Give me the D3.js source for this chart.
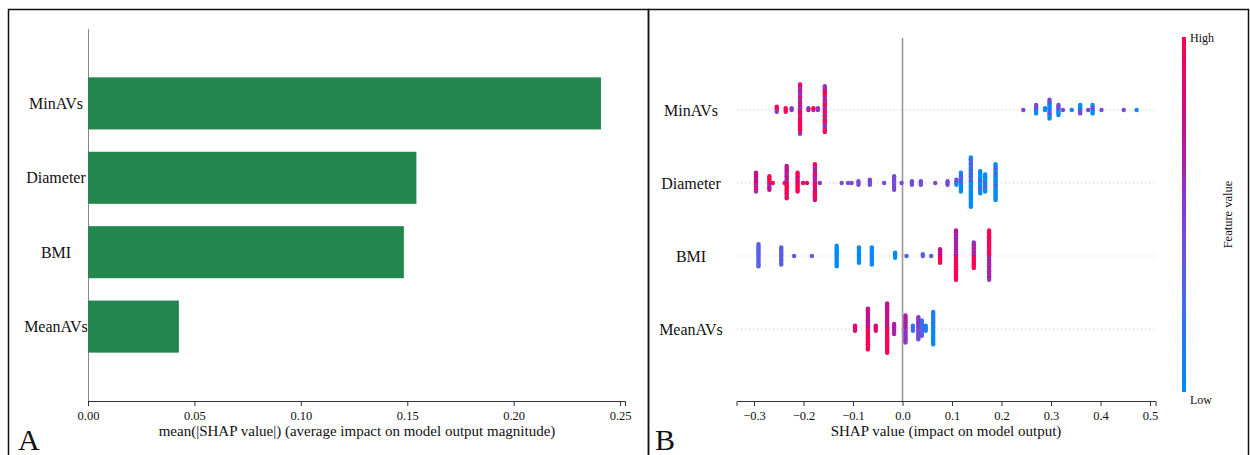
<!DOCTYPE html>
<html>
  <head>
    <meta charset="utf-8">
    <title>SHAP summary</title>
    <script src="https://d3js.org/d3.v7.min.js"></script>
    <style>
      body { margin: 0; background: #fff; }
      svg text { font-family: "Liberation Serif", "DejaVu Serif", serif; fill: #111; }
    </style>
  </head>
  <body>
    <svg width="1250" height="455" font-family="Liberation Serif"></svg>

    <script type="text/javascript">
      // features, top to bottom
      var features = ["MinAVs", "Diameter", "BMI", "MeanAVs"];
      // panel A: mean |SHAP|
      var meanAbsShap = [0.241, 0.1543, 0.1484, 0.0427];
      var barTicks = [0, 0.05, 0.1, 0.15, 0.2, 0.25];
      var shapTicks = [-0.3, -0.2, -0.1, 0, 0.1, 0.2, 0.3, 0.4, 0.5];

      // panel B: columns of points [shap value, feature value codes]
      // one char per point, 0 = low (blue) .. 9 = high (red)
      var minAVsPts = [
        [-0.254, "5959"], [-0.236, "999"], [-0.224, "55"],
        [-0.207, "959599955995959995959599959559"],
        [-0.19, "95"], [-0.18, "59"], [-0.171, "55"],
        [-0.157, "9595995995599595995959599595"],
        [0.244, "4"], [0.27, "040404"], [0.288, "00"],
        [0.297, "040040400404"], [0.315, "0404040"], [0.324, "4"],
        [0.342, "0"], [0.359, "404040"], [0.375, "4"], [0.384, "040400"],
        [0.402, "4"], [0.447, "4"], [0.473, "0"]
      ];
      var diameterPts = [
        [-0.296, "979757979757"], [-0.269, "797959797"], [-0.262, "9"],
        [-0.238, "9"], [-0.234, "97959797979597975797"],
        [-0.212, "999799979999"], [-0.201, "9"], [-0.193, "7"],
        [-0.177, "9795979579799795979579"], [-0.167, "5"],
        [-0.123, "4"], [-0.11, "4"], [-0.103, "4"], [-0.089, "444"],
        [-0.066, "4444"], [-0.037, "4"], [-0.017, "444444444"],
        [-0.002, "4"], [0.019, "444"], [0.037, "444"], [0.066, "4"],
        [0.091, "444"], [0.109, "0404"], [0.118, "040004000400"],
        [0.138, "000400040004000400040004000400"],
        [0.157, "00040000400000"], [0.167, "00400040000"],
        [0.188, "0000400000040000040000"]
      ];
      var bmiPts = [
        [-0.291, "33333333333333"], [-0.245, "33333333333"],
        [-0.219, "3"], [-0.183, "3"], [-0.133, "0000000000000"],
        [-0.088, "0000000000"], [-0.062, "00100100100"], [-0.015, "0000"],
        [0.008, "3"], [0.041, "33"], [0.058, "3"], [0.076, "979797979"],
        [0.108, "979597959795979597959795979597"],
        [0.144, "9795979597959795"],
        [0.175, "597959795979597959795979597959"]
      ];
      var meanAVsPts = [
        [-0.096, "8888"], [-0.07, "9797979797979797979797979"],
        [-0.054, "8888"], [-0.031, "979797979797979797979797979797"],
        [-0.017, "6666666"], [0.006, "56565656565656565"],
        [0.021, "2222"], [0.032, "45454545454545"], [0.039, "3232323232"],
        [0.047, "1111"], [0.062, "01010101010101010101"]
      ];
      var swarm = [minAVsPts, diameterPts, bmiPts, meanAVsPts];

      var svg = d3.select("svg");
      var serif = "Liberation Serif";

      // panel frames
      svg.append("rect").attr("x", 8.5).attr("y", 9.5).attr("width", 640).attr("height", 460)
        .attr("fill", "none").attr("stroke", "#111").attr("stroke-width", 1.5);
      svg.append("rect").attr("x", 648.5).attr("y", 9.5).attr("width", 600).attr("height", 460)
        .attr("fill", "none").attr("stroke", "#111").attr("stroke-width", 1.5);

      // ---------- Panel A ----------
      var xA = d3.scaleLinear().domain([0, 0.2523]).range([88, 625]);
      var yA = d3.scaleLinear().domain([0, 5]).range([29, 401]);
      var stepA = yA(1) - yA(0);

      svg.append("line").attr("x1", 88.5).attr("x2", 88.5).attr("y1", 29).attr("y2", 401)
        .attr("stroke", "#888").attr("stroke-width", 1);

      svg.append("g").selectAll("rect")
        .data(features)
        .enter()
        .append("rect")
        .attr("x", xA(0))
        .attr("y", function (d, i) { return yA(i + 1) - stepA * 0.35; })
        .attr("width", function (d, i) { return xA(meanAbsShap[i]) - xA(0); })
        .attr("height", stepA * 0.7)
        .attr("fill", "#23864f");

      svg.append("g").selectAll("text")
        .data(features)
        .enter()
        .append("text")
        .attr("x", 56)
        .attr("y", function (d, i) { return yA(i + 1); })
        .attr("text-anchor", "middle")
        .attr("dominant-baseline", "central")
        .style("font-size", "16px")
        .text(function (d) { return d; });

      var axA = svg.append("g")
        .attr("transform", "translate(0,401)")
        .call(d3.axisBottom(xA).tickValues(barTicks).tickFormat(d3.format(".2f")).tickSizeOuter(0).tickSize(5));
      axA.select(".domain").attr("stroke", "#333");
      axA.selectAll(".tick line").attr("stroke", "#333");
      axA.selectAll(".tick text").style("font-size", "12.5px").attr("dy", "0.9em");

      svg.append("text").attr("x", 357).attr("y", 436).attr("text-anchor", "middle")
        .style("font-size", "15px")
        .text("mean(|SHAP value|) (average impact on model output magnitude)");
      svg.append("text").attr("x", 18).attr("y", 450).style("font-size", "30px").text("A");

      // ---------- Panel B ----------
      var xB = d3.scaleLinear().domain([-0.3354, 0.5113]).range([736.5, 1155.6]);
      var yB = d3.scaleLinear().domain([0, 5]).range([37, 402]);
      var color = d3.scaleLinear()
        .domain([0, 2, 3.5, 5, 6.5, 9])
        .range(["#008bfb", "#3a6ff0", "#6a55e0", "#8d34c4", "#b8139a", "#ff0052"]);
      var spacing = 1.7;

      // dotted row guides
      svg.append("g").selectAll("line")
        .data(features)
        .enter()
        .append("line")
        .attr("x1", 737).attr("x2", 1155)
        .attr("y1", function (d, i) { return yB(i + 1); })
        .attr("y2", function (d, i) { return yB(i + 1); })
        .attr("stroke", "#ccc").attr("stroke-width", 1).attr("stroke-dasharray", "1,3");

      // zero line
      svg.append("line").attr("x1", xB(0)).attr("x2", xB(0)).attr("y1", 38).attr("y2", 401)
        .attr("stroke", "#999").attr("stroke-width", 1.6);

      // points, stacked alternately above and below the row line
      var points = [];
      swarm.forEach(function (cols, fi) {
        cols.forEach(function (c) {
          c[1].split("").forEach(function (ch, k) {
            var off = (k % 2 === 0 ? 1 : -1) * Math.ceil(k / 2) * spacing;
            points.push({ row: fi, v: c[0], fv: +ch, off: off });
          });
        });
      });

      svg.append("g").selectAll("circle")
        .data(points)
        .enter()
        .append("circle")
        .attr("cx", function (d) { return xB(d.v); })
        .attr("cy", function (d) { return yB(d.row + 1) + d.off; })
        .attr("r", 2.2)
        .attr("fill", function (d) { return color(d.fv); });

      svg.append("g").selectAll("text")
        .data(features)
        .enter()
        .append("text")
        .attr("x", 691)
        .attr("y", function (d, i) { return yB(i + 1); })
        .attr("text-anchor", "middle")
        .attr("dominant-baseline", "central")
        .style("font-size", "16px")
        .text(function (d) { return d; });

      var axB = svg.append("g")
        .attr("transform", "translate(0,401)")
        .call(d3.axisBottom(xB).tickValues(shapTicks).tickFormat(d3.format(".1f")).tickSizeOuter(0).tickSize(5));
      axB.select(".domain").attr("stroke", "#333");
      axB.selectAll(".tick line").attr("stroke", "#333");
      axB.selectAll(".tick text").style("font-size", "12.5px").attr("dy", "0.9em");

      svg.append("text").attr("x", 946).attr("y", 436).attr("text-anchor", "middle")
        .style("font-size", "15px")
        .text("SHAP value (impact on model output)");
      svg.append("text").attr("x", 655).attr("y", 450).style("font-size", "30px").text("B");

      // colour bar
      var defs = svg.append("defs");
      var grad = defs.append("linearGradient").attr("id", "fvgrad")
        .attr("x1", 0).attr("y1", 1).attr("x2", 0).attr("y2", 0);
      d3.range(0, 10).forEach(function (i) {
        grad.append("stop").attr("offset", i / 9).attr("stop-color", color(i));
      });
      var cbY = d3.scaleLinear().domain([0, 9]).range([392, 37]);
      svg.append("rect").attr("x", 1182).attr("y", cbY(9)).attr("width", 4)
        .attr("height", cbY(0) - cbY(9)).attr("fill", "url(#fvgrad)");
      svg.append("text").attr("x", 1190).attr("y", cbY(9) + 5).style("font-size", "12px").text("High");
      svg.append("text").attr("x", 1190).attr("y", cbY(0) + 12).style("font-size", "12px").text("Low");
      svg.append("text")
        .attr("transform", "translate(1232," + (cbY(4.5)) + ") rotate(-90)")
        .attr("text-anchor", "middle")
        .style("font-size", "12.5px")
        .text("Feature value");

      // serif everywhere, including the axis tick labels
      svg.selectAll("text").style("font-family", serif).attr("fill", "#111");
      svg.selectAll("g").attr("font-family", serif);
    </script>
  </body>
</html>
